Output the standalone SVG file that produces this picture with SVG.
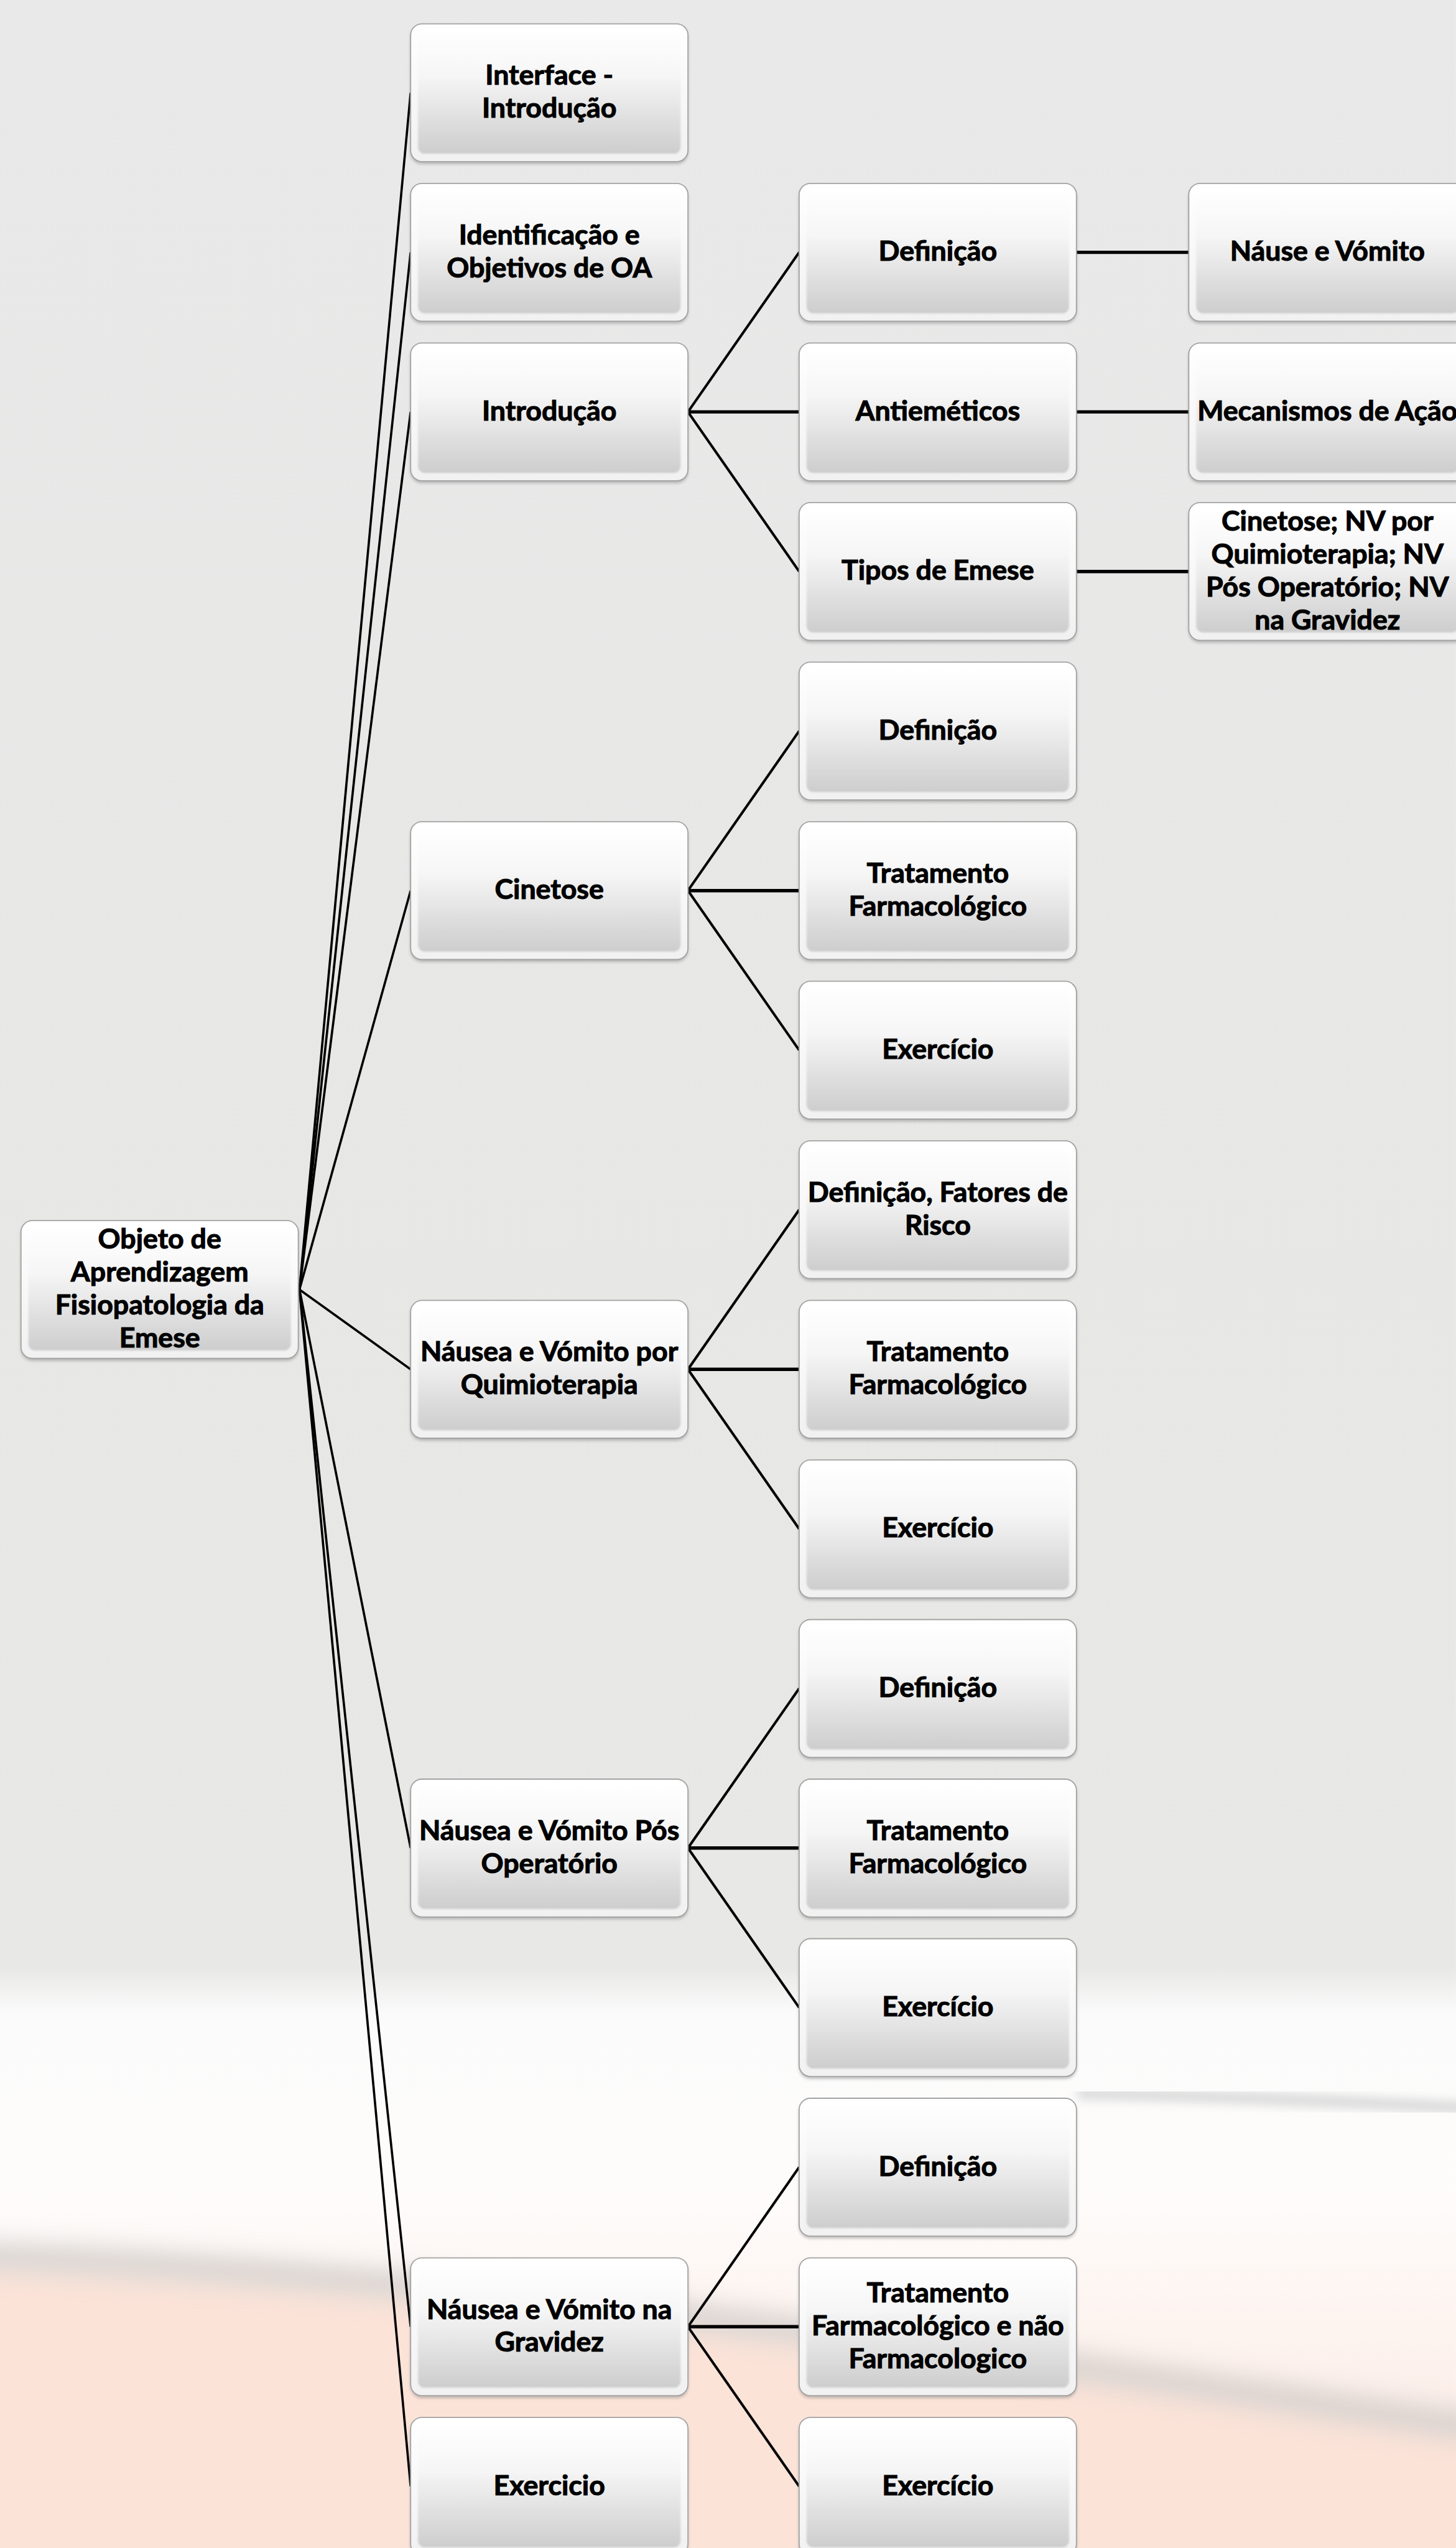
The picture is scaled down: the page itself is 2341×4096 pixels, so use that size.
<svg xmlns="http://www.w3.org/2000/svg" width="2341" height="4096" viewBox="0 0 2341 4096">
<style>
.t{font-family:Lato,"Open Sans","Liberation Sans",sans-serif;font-weight:700;font-size:49px;fill:#000;stroke:#000;stroke-width:1.2;text-anchor:middle}
.c{stroke:#000;stroke-width:4.5;fill:none;stroke-linecap:butt}
.c0{stroke:#000;stroke-width:4;fill:none}
.h{stroke:#000;stroke-width:6;fill:none}
</style>
<defs>
<linearGradient id="bg" x1="0" y1="0" x2="0" y2="4492" gradientUnits="userSpaceOnUse">
<stop offset="0" stop-color="#e9e9e9"/>
<stop offset="0.5" stop-color="#e7e7e6"/>
<stop offset="0.772" stop-color="#e8e8e7"/>
<stop offset="0.79" stop-color="#fbfbfb"/>
<stop offset="0.86" stop-color="#fefcfb"/>
<stop offset="1" stop-color="#fbe6dd"/>
</linearGradient>
<linearGradient id="rim" x1="0" y1="0" x2="0" y2="1">
<stop offset="0" stop-color="#ffffff"/>
<stop offset="1" stop-color="#f1f1f1"/>
</linearGradient>
<linearGradient id="face" x1="0" y1="0" x2="0" y2="1">
<stop offset="0" stop-color="#ffffff"/>
<stop offset="0.38" stop-color="#f6f6f6"/>
<stop offset="1" stop-color="#cdcdcd"/>
</linearGradient>
<filter id="sh" x="-10%" y="-10%" width="120%" height="130%"><feGaussianBlur stdDeviation="3"/></filter>
<filter id="soft" x="-5%" y="-5%" width="110%" height="110%"><feGaussianBlur stdDeviation="2"/></filter>
<filter id="blurL" x="-20%" y="-50%" width="140%" height="200%"><feGaussianBlur stdDeviation="22"/></filter>
<filter id="blurW" x="-10%" y="-10%" width="120%" height="120%"><feGaussianBlur stdDeviation="9"/></filter>
<g id="box">
<rect x="0" y="4" width="489" height="243" rx="20" fill="#6f6f6f" opacity="0.45" filter="url(#sh)"/>
<rect x="0" y="0" width="489" height="243" rx="20" fill="url(#rim)" stroke="#a3a3a3" stroke-width="2"/>
<rect x="13" y="7" width="463" height="222" rx="12" fill="url(#face)" filter="url(#soft)"/>
</g>
</defs>
<g transform="scale(0.9119)">
<g id="background">
<rect x="0" y="0" width="2567" height="4492" fill="url(#bg)"/>
<path d="M-100,3990 C600,4010 1500,4120 2700,4310 L2700,4600 L-100,4600 Z" fill="#fbe3d8" filter="url(#blurL)"/>
<path d="M-100,3975 C600,3995 1500,4105 2700,4295" stroke="#cfcac7" stroke-width="45" fill="none" opacity="0.85" filter="url(#blurL)"/>
<path d="M1900,3690 C2150,3695 2400,3705 2650,3720" stroke="#d3d3d3" stroke-width="22" fill="none" opacity="0.8" filter="url(#blurW)"/>
</g>
<g id="connectors">
<line class="c0" x1="528" y1="2273.25" x2="724" y2="163.5"/>
<line class="c0" x1="528" y1="2273.25" x2="724" y2="444.8"/>
<line class="c0" x1="528" y1="2273.25" x2="724" y2="726.1"/>
<line class="c0" x1="528" y1="2273.25" x2="724" y2="1570"/>
<line class="c0" x1="528" y1="2273.25" x2="724" y2="2413.9"/>
<line class="c0" x1="528" y1="2273.25" x2="724" y2="3257.8"/>
<line class="c0" x1="528" y1="2273.25" x2="724" y2="4101.7"/>
<line class="c0" x1="528" y1="2273.25" x2="724" y2="4383"/>
<line class="c" x1="1213" y1="726.1" x2="1409" y2="444.8"/>
<line class="h" x1="1213" y1="726.1" x2="1409" y2="726.1"/>
<line class="c" x1="1213" y1="726.1" x2="1409" y2="1007.4"/>
<line class="c" x1="1213" y1="1570" x2="1409" y2="1288.7"/>
<line class="h" x1="1213" y1="1570" x2="1409" y2="1570"/>
<line class="c" x1="1213" y1="1570" x2="1409" y2="1851.3"/>
<line class="c" x1="1213" y1="2413.9" x2="1409" y2="2132.6"/>
<line class="h" x1="1213" y1="2413.9" x2="1409" y2="2413.9"/>
<line class="c" x1="1213" y1="2413.9" x2="1409" y2="2695.2"/>
<line class="c" x1="1213" y1="3257.8" x2="1409" y2="2976.5"/>
<line class="h" x1="1213" y1="3257.8" x2="1409" y2="3257.8"/>
<line class="c" x1="1213" y1="3257.8" x2="1409" y2="3539.1"/>
<line class="c" x1="1213" y1="4101.7" x2="1409" y2="3820.4"/>
<line class="h" x1="1213" y1="4101.7" x2="1409" y2="4101.7"/>
<line class="c" x1="1213" y1="4101.7" x2="1409" y2="4383"/>
<line class="h" x1="1898" y1="444.8" x2="2096" y2="444.8"/>
<line class="h" x1="1898" y1="726.1" x2="2096" y2="726.1"/>
<line class="h" x1="1898" y1="1007.4" x2="2096" y2="1007.4"/>
</g>
<g id="n-root"><use href="#box" x="37" y="2151.75"/><text class="t"><tspan x="281.5" y="2201">Objeto de</tspan><tspan x="281.5" y="2259">Aprendizagem</tspan><tspan x="281.5" y="2317">Fisiopatologia da</tspan><tspan x="281.5" y="2375">Emese</tspan></text></g>
<g id="n-interface"><use href="#box" x="724" y="42"/><text class="t"><tspan x="968.5" y="149.5">Interface -</tspan><tspan x="968.5" y="207.5">Introdução</tspan></text></g>
<g id="n-identificacao"><use href="#box" x="724" y="323.3"/><text class="t"><tspan x="968.5" y="430.8">Identificação e</tspan><tspan x="968.5" y="488.8">Objetivos de OA</tspan></text></g>
<g id="n-introducao"><use href="#box" x="724" y="604.6"/><text class="t" x="968.5" y="741.1">Introdução</text></g>
<g id="n-cinetose"><use href="#box" x="724" y="1448.5"/><text class="t" x="968.5" y="1585">Cinetose</text></g>
<g id="n-quimio"><use href="#box" x="724" y="2292.4"/><text class="t"><tspan x="968.5" y="2399.9">Náusea e Vómito por</tspan><tspan x="968.5" y="2457.9">Quimioterapia</tspan></text></g>
<g id="n-posop"><use href="#box" x="724" y="3136.3"/><text class="t"><tspan x="968.5" y="3243.8">Náusea e Vómito Pós</tspan><tspan x="968.5" y="3301.8">Operatório</tspan></text></g>
<g id="n-gravidez"><use href="#box" x="724" y="3980.2"/><text class="t"><tspan x="968.5" y="4087.7">Náusea e Vómito na</tspan><tspan x="968.5" y="4145.7">Gravidez</tspan></text></g>
<g id="n-exercicio"><use href="#box" x="724" y="4261.5"/><text class="t" x="968.5" y="4398">Exercicio</text></g>
<g id="n-intro-def"><use href="#box" x="1409" y="323.3"/><text class="t" x="1653.5" y="459.8">Definição</text></g>
<g id="n-intro-anti"><use href="#box" x="1409" y="604.6"/><text class="t" x="1653.5" y="741.1">Antieméticos</text></g>
<g id="n-intro-tipos"><use href="#box" x="1409" y="885.9"/><text class="t" x="1653.5" y="1022.4">Tipos de Emese</text></g>
<g id="n-cin-def"><use href="#box" x="1409" y="1167.2"/><text class="t" x="1653.5" y="1303.7">Definição</text></g>
<g id="n-cin-trat"><use href="#box" x="1409" y="1448.5"/><text class="t"><tspan x="1653.5" y="1556">Tratamento</tspan><tspan x="1653.5" y="1614">Farmacológico</tspan></text></g>
<g id="n-cin-ex"><use href="#box" x="1409" y="1729.8"/><text class="t" x="1653.5" y="1866.3">Exercício</text></g>
<g id="n-qui-def"><use href="#box" x="1409" y="2011.1"/><text class="t"><tspan x="1653.5" y="2118.6">Definição, Fatores de</tspan><tspan x="1653.5" y="2176.6">Risco</tspan></text></g>
<g id="n-qui-trat"><use href="#box" x="1409" y="2292.4"/><text class="t"><tspan x="1653.5" y="2399.9">Tratamento</tspan><tspan x="1653.5" y="2457.9">Farmacológico</tspan></text></g>
<g id="n-qui-ex"><use href="#box" x="1409" y="2573.7"/><text class="t" x="1653.5" y="2710.2">Exercício</text></g>
<g id="n-pos-def"><use href="#box" x="1409" y="2855"/><text class="t" x="1653.5" y="2991.5">Definição</text></g>
<g id="n-pos-trat"><use href="#box" x="1409" y="3136.3"/><text class="t"><tspan x="1653.5" y="3243.8">Tratamento</tspan><tspan x="1653.5" y="3301.8">Farmacológico</tspan></text></g>
<g id="n-pos-ex"><use href="#box" x="1409" y="3417.6"/><text class="t" x="1653.5" y="3554.1">Exercício</text></g>
<g id="n-grav-def"><use href="#box" x="1409" y="3698.9"/><text class="t" x="1653.5" y="3835.4">Definição</text></g>
<g id="n-grav-trat"><use href="#box" x="1409" y="3980.2"/><text class="t"><tspan x="1653.5" y="4058.7">Tratamento</tspan><tspan x="1653.5" y="4116.7">Farmacológico e não</tspan><tspan x="1653.5" y="4174.7">Farmacologico</tspan></text></g>
<g id="n-grav-ex"><use href="#box" x="1409" y="4261.5"/><text class="t" x="1653.5" y="4398">Exercício</text></g>
<g id="n-def-nv"><use href="#box" x="2096" y="323.3"/><text class="t" x="2340.5" y="459.8">Náuse e Vómito</text></g>
<g id="n-anti-mec"><use href="#box" x="2096" y="604.6"/><text class="t" x="2340.5" y="741.1">Mecanismos de Ação</text></g>
<g id="n-tipos-list"><use href="#box" x="2096" y="885.9"/><text class="t"><tspan x="2340.5" y="935.4">Cinetose; NV por</tspan><tspan x="2340.5" y="993.4">Quimioterapia; NV</tspan><tspan x="2340.5" y="1051.4">Pós Operatório; NV</tspan><tspan x="2340.5" y="1109.4">na Gravidez</tspan></text></g>
</g>
</svg>
